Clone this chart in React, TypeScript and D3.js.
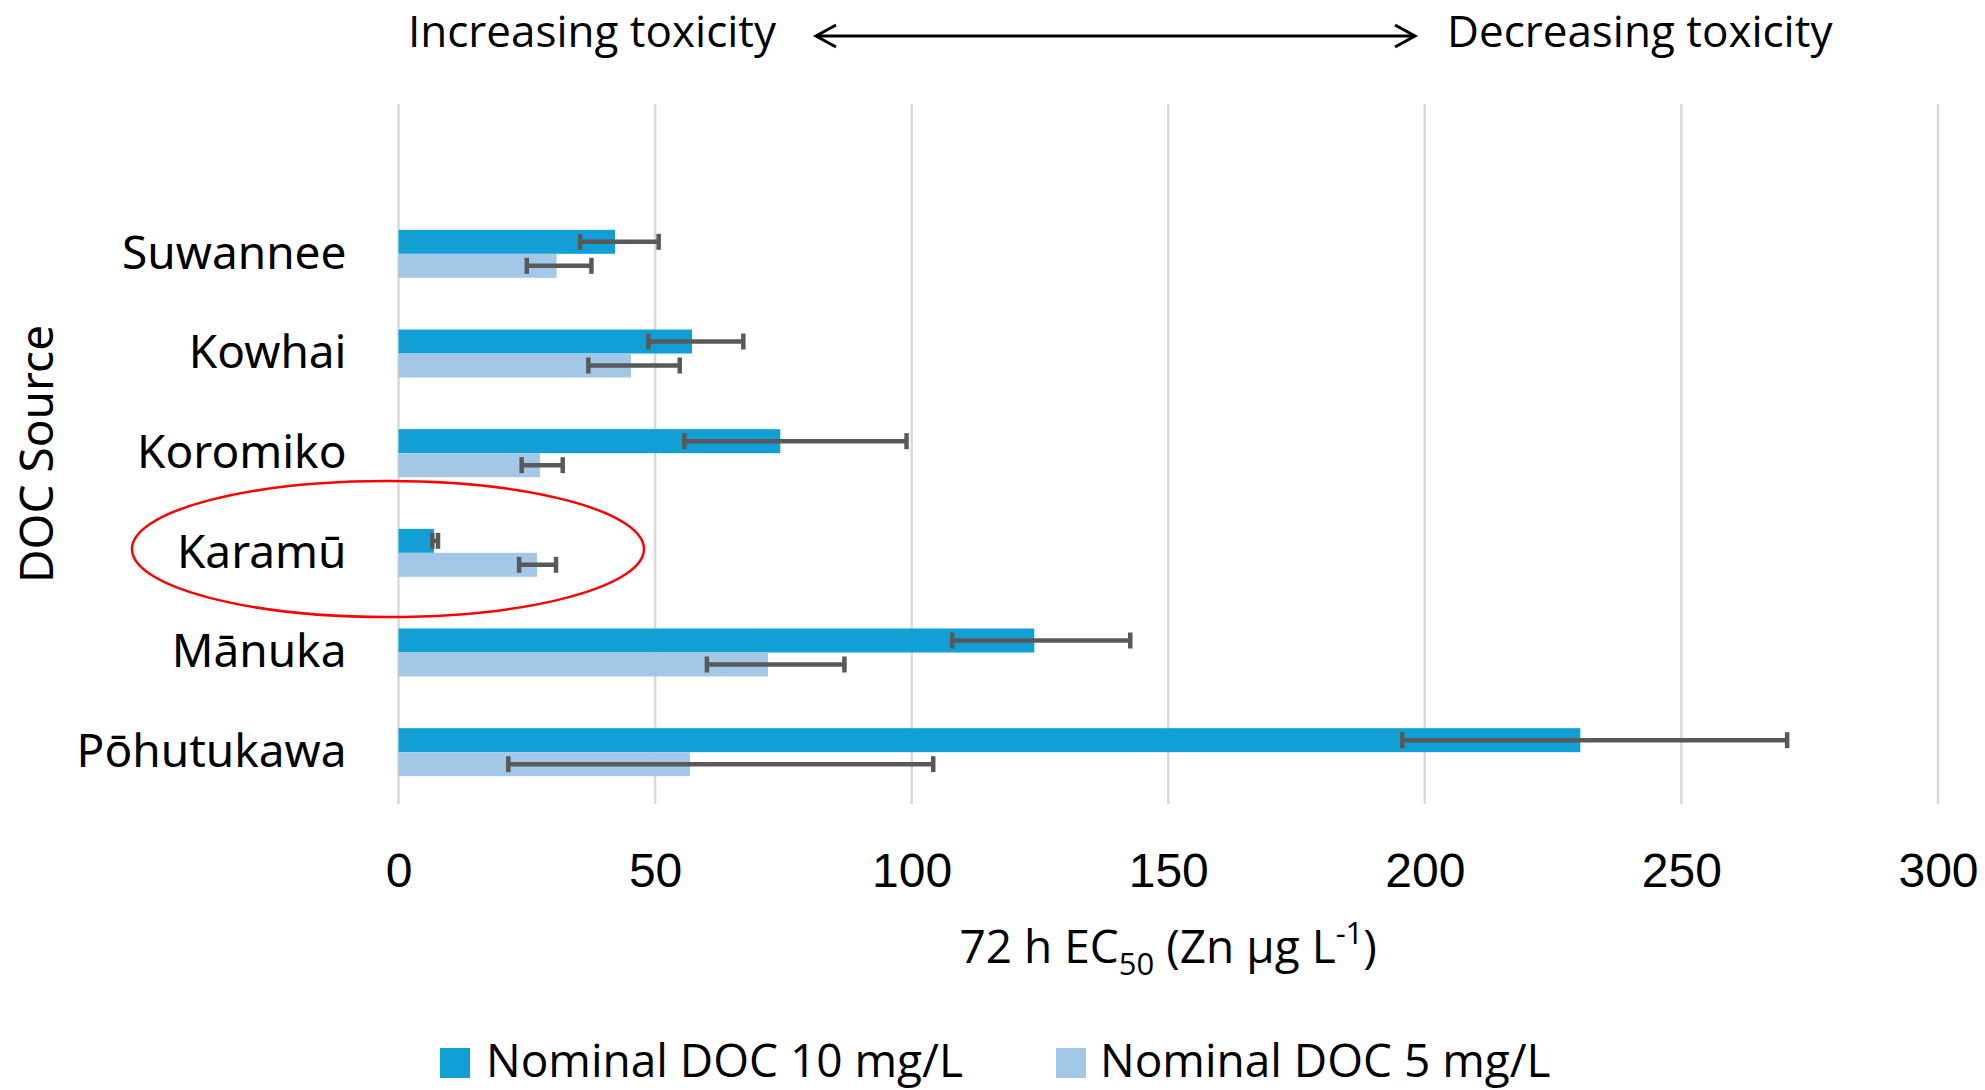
import React, { useEffect, useRef } from "react";
import * as d3 from "d3";

// DOC sources, top to bottom
const sources = ["Suwannee", "Kowhai", "Koromiko", "Karamū", "Mānuka", "Pōhutukawa"];

// 72 h EC50 (Zn µg/L), with lower / upper error limits
const doc10 = [42.2, 57.2, 74.4, 6.9, 123.9, 230.3];
const doc10Low = [35.4, 48.7, 55.7, 6.6, 107.9, 195.6];
const doc10High = [50.7, 67.2, 99.0, 7.7, 142.6, 270.6];

const doc5 = [30.8, 45.3, 27.6, 27.0, 72.0, 56.8];
const doc5Low = [25.0, 37.0, 24.0, 23.5, 60.1, 21.4];
const doc5High = [37.6, 54.8, 32.0, 30.7, 86.9, 104.2];

const xTicks = [0, 50, 100, 150, 200, 250, 300];
const seriesNames = ["Nominal DOC 10 mg/L", "Nominal DOC 5 mg/L"];
const seriesColors = ["#119fd6", "#a3c8e7"];

const W = 1985;
const H = 1090;

export default function App() {
  const ref = useRef<SVGSVGElement>(null);

  useEffect(() => {
    const svg = d3.select(ref.current);
    svg.selectAll("*").remove();

    const x = d3.scaleLinear().domain([0, 300]).range([398.5, 1938]);
    const y = d3.scaleBand().domain(sources).range([204, 802]);
    const barH = 24;
    const gridTop = 104;
    const gridBottom = 804;

    // gridlines
    svg.append("g")
      .selectAll("line")
      .data(xTicks)
      .enter().append("line")
      .attr("x1", d => x(d))
      .attr("x2", d => x(d))
      .attr("y1", gridTop)
      .attr("y2", gridBottom)
      .attr("stroke", "#d9d9d9")
      .attr("stroke-width", 2.5);

    // x axis labels
    svg.append("g")
      .attr("transform", `translate(0,${gridBottom})`)
      .call(d3.axisBottom(x).tickValues(xTicks).tickSize(0).tickPadding(49).tickFormat(d3.format("d")))
      .call(g => g.select(".domain").remove())
      .selectAll("text")
      .style("font-family", "'Liberation Sans', Arial, sans-serif")
      .style("font-size", "48px")
      .style("fill", "#000");

    // category labels
    svg.append("g")
      .attr("transform", `translate(${x(0)},0)`)
      .call(d3.axisLeft(y).tickSize(0).tickPadding(52))
      .call(g => g.select(".domain").remove())
      .selectAll("text")
      .style("font-family", "'Noto Sans', sans-serif")
      .style("font-size", "46px")
      .style("fill", "#000");

    const chart = svg.append("g");
    const series = [
      { vals: doc10, lo: doc10Low, hi: doc10High, off: -barH, color: seriesColors[0] },
      { vals: doc5, lo: doc5Low, hi: doc5High, off: 0, color: seriesColors[1] },
    ];

    series.forEach(s => {
      chart.append("g")
        .selectAll("rect")
        .data(sources)
        .enter().append("rect")
        .attr("x", x(0))
        .attr("y", d => y(d)! + y.bandwidth() / 2 + s.off)
        .attr("width", (d, i) => x(s.vals[i]) - x(0))
        .attr("height", barH)
        .attr("fill", s.color);
    });

    // error bars
    series.forEach(s => {
      const g = chart.append("g")
        .attr("stroke", "#595959")
        .attr("stroke-width", 4.5);
      sources.forEach((src, i) => {
        const cy = y(src)! + y.bandwidth() / 2 + s.off + barH / 2;
        g.append("line")
          .attr("x1", x(s.lo[i])).attr("x2", x(s.hi[i]))
          .attr("y1", cy).attr("y2", cy);
        [s.lo[i], s.hi[i]].forEach(v => {
          g.append("line")
            .attr("x1", x(v)).attr("x2", x(v))
            .attr("y1", cy - 8).attr("y2", cy + 8);
        });
      });
    });

    // y axis title
    svg.append("text")
      .attr("transform", `translate(53,${(gridTop + gridBottom) / 2}) rotate(-90)`)
      .attr("text-anchor", "middle")
      .style("font-family", "'Noto Sans', sans-serif")
      .style("font-size", "46px")
      .text("DOC Source");

    // x axis title
    const title = svg.append("text")
      .attr("x", (x(0) + x(300)) / 2)
      .attr("y", 963)
      .attr("text-anchor", "middle")
      .style("font-family", "'Open Sans', sans-serif")
      .style("font-size", "46px");
    title.append("tspan").text("72 h EC");
    title.append("tspan").attr("dy", 12).style("font-size", "31px").text("50");
    title.append("tspan").attr("dy", -12).text(" (Zn µg L");
    title.append("tspan").attr("dy", -19).style("font-size", "31px").text("-1");
    title.append("tspan").attr("dy", 19).text(")");

    // toxicity direction
    const topFont = "'Open Sans', sans-serif";
    svg.append("text")
      .attr("x", 408).attr("y", 47)
      .style("font-family", topFont).style("font-size", "44px")
      .text("Increasing toxicity");
    svg.append("text")
      .attr("x", 1447).attr("y", 47)
      .style("font-family", topFont).style("font-size", "44px")
      .text("Decreasing toxicity");
    const arrow = svg.append("g").attr("stroke", "#000").attr("stroke-width", 3).attr("fill", "none");
    arrow.append("line").attr("x1", 816).attr("x2", 1415).attr("y1", 36).attr("y2", 36);
    arrow.append("path").attr("d", "M836,25 L816,36 L836,47");
    arrow.append("path").attr("d", "M1395,25 L1415,36 L1395,47");

    // highlight ellipse
    svg.append("ellipse")
      .attr("cx", 388).attr("cy", 549)
      .attr("rx", 256).attr("ry", 68)
      .attr("fill", "none")
      .attr("stroke", "#ff0000")
      .attr("stroke-width", 2.5);

    // legend
    const legendX = [440, 1056];
    const textX = [486, 1100];
    seriesNames.forEach((name, i) => {
      svg.append("rect")
        .attr("x", legendX[i]).attr("y", 1048)
        .attr("width", 30).attr("height", 30)
        .attr("fill", seriesColors[i]);
      svg.append("text")
        .attr("x", textX[i]).attr("y", 1077)
        .style("font-family", "'Open Sans', sans-serif")
        .style("font-size", "46px")
        .text(name);
    });
  }, []);

  return (
    <svg
      ref={ref}
      width={W}
      height={H}
      style={{ position: "absolute", left: 0, top: 0, background: "#fff" }}
    />
  );
}
